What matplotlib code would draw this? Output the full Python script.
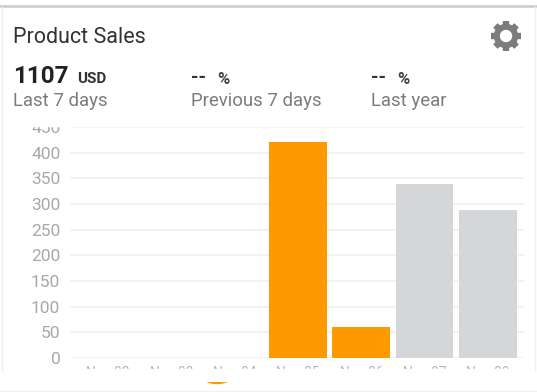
import numpy as np
from matplotlib import pyplot as plt
from matplotlib.patches import Circle, Ellipse, Rectangle

plt.rcParams['font.family'] = ['Roboto', 'DejaVu Sans']

days = ['Nov 02', 'Nov 03', 'Nov 04', 'Nov 05', 'Nov 06', 'Nov 07', 'Nov 08']
sales = [0, 0, 0, 421, 60, 338, 288]
bar_colors = ['#ff9900', '#ff9900', '#ff9900', '#ff9900', '#ff9900', '#d5d6d8', '#d5d6d8']
yticks = [0, 50, 100, 150, 200, 250, 300, 350, 400, 450]

W, H = 537, 392
fig = plt.figure(figsize=(W / 100, H / 100), dpi=100)

# chart area, placed in pixels of the screenshot
left, right, top, bottom = 70, 524, 127, 358
ax = fig.add_axes([left / W, 1 - bottom / H, (right - left) / W, (bottom - top) / H])
ax.bar(range(len(days)), sales, width=0.91, color=bar_colors, zorder=3)
ax.set_xlim(-0.6, 6.57)
ax.set_ylim(0, 450)
ax.set_yticks(yticks)
ax.set_xticks(range(len(days)))
ax.set_xticklabels(days)
ax.grid(axis='y', color='#f0f0f0', lw=1.2, zorder=0)
ax.tick_params(axis='y', length=0, pad=7, labelsize=12.5, labelcolor='#a8a8a8')
ax.tick_params(axis='x', length=0, pad=6, labelsize=10, labelcolor='#b5b5b5')
for s in ax.spines.values():
    s.set_visible(False)

# everything else: overlay in pixel coords
ov = fig.add_axes([0, 0, 1, 1], zorder=5)
ov.set_xlim(0, W)
ov.set_ylim(H, 0)
ov.axis('off')
ov.patch.set_alpha(0)

# screenshot crops the tick labels top and bottom
ov.add_patch(Rectangle((0, 0), W, 125.5, color='white', zorder=1))
ov.add_patch(Rectangle((0, 369), W, 23, color='white', zorder=1))

ov.plot([0, W], [6, 6], color='#cfcfcf', lw=2, zorder=2)
ov.plot([1.5, 1.5], [7, 370], color='#efefef', lw=1, zorder=2)
ov.plot([535, 535], [7, 370], color='#efefef', lw=1, zorder=2)
ov.plot([0, W], [390.5, 390.5], color='#f0f0f0', lw=1, zorder=2)

# bit of the orange tab marker under the card
dot = Ellipse((217, 378), 26, 11, color='#ff9900', zorder=2)
ov.add_patch(dot)
dot.set_clip_path(Rectangle((200, 381.5), 40, 5, transform=ov.transData))

ov.text(13, 37, 'Product Sales', fontsize=15.5, color='#333333', va='center', zorder=3)
ov.text(13, 76, '1107', fontsize=17.5, fontweight='bold', color='#222222', va='center', zorder=3)
ov.text(77, 78.5, 'USD', fontsize=11, fontweight='bold', color='#333333', va='center', zorder=3)
for x0 in [191, 371]:
    ov.text(x0, 78, '--', fontsize=14, fontweight='bold', color='#333333', va='center', zorder=3)
    ov.text(x0 + 26, 79, '%', fontsize=12, fontweight='bold', color='#444444', va='center', zorder=3)
ov.text(13, 100.5, 'Last 7 days', fontsize=13.4, color='#7b7b7b', va='center', zorder=3)
ov.text(191, 100.5, 'Previous 7 days', fontsize=13.4, color='#7b7b7b', va='center', zorder=3)
ov.text(371, 100.5, 'Last year', fontsize=13.4, color='#7b7b7b', va='center', zorder=3)

# settings gear
gx, gy = 506, 36
for a in np.arange(0, 180, 45):
    ov.plot([gx - 15 * np.cos(np.radians(a)), gx + 15 * np.cos(np.radians(a))],
            [gy - 15 * np.sin(np.radians(a)), gy + 15 * np.sin(np.radians(a))],
            color='#7c7c7c', lw=4.6, solid_capstyle='butt', zorder=3)
ov.add_patch(Circle((gx, gy), 11.5, color='#7c7c7c', zorder=3))
ov.add_patch(Circle((gx, gy), 5.5, color='white', zorder=4))

plt.savefig('out.png', dpi=100)
